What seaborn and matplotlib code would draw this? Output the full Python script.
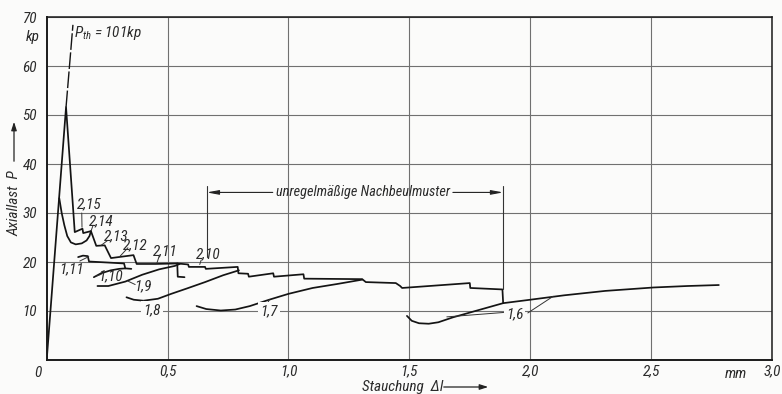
import matplotlib
matplotlib.use("Agg")
import matplotlib.pyplot as plt
from matplotlib import font_manager as fm
import seaborn as sns
import pandas as pd

# ---------------- data ----------------
main_x = [0.0, 0.080, 0.116, 0.148, 0.151, 0.183, 0.205, 0.240, 0.266, 0.359, 0.372,
          0.45, 0.540, 0.585, 0.588, 0.655, 0.658, 0.79, 0.793, 0.833, 0.836, 0.937,
          0.940, 1.062, 1.065, 1.305, 1.32, 1.444, 1.462, 1.47, 1.75, 1.752, 1.885, 1.888]
main_y = [0.0, 51.6, 26.1, 26.8, 25.9, 26.3, 23.3, 23.4, 20.8, 21.4, 19.6,
          19.6, 19.7, 19.5, 19.0, 19.0, 18.6, 19.0, 17.7, 17.6, 17.0, 17.7,
          17.0, 17.5, 16.6, 16.5, 15.9, 15.7, 15.1, 14.7, 15.7, 14.7, 14.4, 11.6]

b_x = [0.052, 0.062, 0.073, 0.085, 0.100, 0.120, 0.145, 0.165, 0.177, 0.183]
b_y = [33.0, 30.0, 27.5, 25.3, 24.0, 23.6, 23.8, 24.4, 25.3, 26.3]

c111_x = [0.13, 0.15, 0.17, 0.175, 0.25, 0.32, 0.325, 0.35]
c111_y = [21.0, 21.3, 21.2, 20.1, 19.9, 19.7, 18.7, 18.6]

c110_x = [0.195, 0.225, 0.265, 0.30, 0.325]
c110_y = [16.9, 17.7, 18.3, 18.6, 18.7]

c19_x = [0.21, 0.255, 0.325, 0.395, 0.465, 0.53, 0.55]
c19_y = [15.1, 15.1, 16.0, 17.4, 18.5, 19.2, 19.6]

branch_x = [0.54, 0.542, 0.57]
branch_y = [19.7, 17.0, 16.9]

c18_x = [0.33, 0.36, 0.40, 0.46, 0.515, 0.58, 0.655, 0.73, 0.795]
c18_y = [12.8, 12.3, 12.1, 12.5, 13.5, 14.6, 15.9, 17.3, 18.3]

c17_x = [0.62, 0.66, 0.72, 0.78, 0.84, 0.92, 1.0, 1.1, 1.2, 1.305]
c17_y = [11.0, 10.4, 10.1, 10.3, 11.0, 12.3, 13.5, 14.7, 15.5, 16.4]

c16_x = [1.49, 1.51, 1.54, 1.58, 1.62, 1.68, 1.78, 1.888, 2.0, 2.14, 2.31, 2.51, 2.65, 2.78]
c16_y = [9.0, 8.0, 7.5, 7.4, 7.7, 8.7, 10.1, 11.6, 12.3, 13.2, 14.1, 14.8, 15.1, 15.3]

pth_x = [0.080, 0.1085]
pth_y = [51.6, 68.4]

lab_text = ["2,15", "2,14", "2,13", "2,12", "2,11", "2,10",
            "1,11", "1,10", "1,9", "1,8", "1,7", "1,6"]
lab_x = [0.175, 0.226, 0.288, 0.366, 0.492, 0.667, 0.104, 0.262, 0.397, 0.437, 0.921, 1.935]
lab_y = [31.7, 28.4, 25.3, 23.4, 22.2, 21.6, 18.6, 17.1, 15.0, 10.1, 9.9, 9.4]

# leader lines (x1, y1, x2, y2)
lead_x1 = [0.145, 0.192, 0.252, 0.336, 0.466, 0.639, 0.137, 0.226, 0.366, 0.422, 0.906, 1.890, 1.990]
lead_y1 = [30.0, 27.5, 24.4, 22.9, 21.3, 20.4, 20.2, 17.5, 15.4, 11.0, 10.9, 9.7, 9.6]
lead_x2 = [0.146, 0.184, 0.225, 0.300, 0.456, 0.633, 0.174, 0.205, 0.336, 0.400, 0.921, 1.655, 2.095]
lead_y2 = [27.1, 26.4, 23.4, 21.0, 19.8, 19.5, 21.1, 17.1, 16.1, 12.1, 12.3, 8.8, 13.0]

dim_left, dim_right, dim_y = 0.662, 1.888, 34.2
dim_left_bottom, dim_right_bottom, dim_top = 21.0, 14.4, 35.6

xtick_pos = [0.5, 1.0, 1.5, 2.0, 2.5, 3.0]
xtick_lab = ["0,5", "1,0", "1,5", "2,0", "2,5", "3,0"]
ytick_pos = [10, 20, 30, 40, 50, 60, 70]
ytick_lab = ["10", "20", "30", "40", "50", "60", "70"]

# ---------------- build table ----------------
segs = [("main", main_x, main_y), ("b", b_x, b_y), ("1.11", c111_x, c111_y),
        ("1.10", c110_x, c110_y), ("1.9", c19_x, c19_y), ("br", branch_x, branch_y),
        ("1.8", c18_x, c18_y), ("1.7", c17_x, c17_y), ("1.6", c16_x, c16_y)]
rows = []
for name, xs, ys in segs:
    for i, (x, y) in enumerate(zip(xs, ys)):
        rows.append({"seg": name, "order": i, "x": x, "y": y})
df = pd.DataFrame(rows)
df_pth = pd.DataFrame({"x": pth_x, "y": pth_y})

# ---------------- font: prefer a narrow / condensed sans ----------------
sns.set_style("white")
cond_fams = [f.name for f in fm.fontManager.ttflist
             if str(f.stretch) in ("condensed", "semi-condensed", "extra-condensed")
             or "Narrow" in f.name or "Condensed" in f.name]
pref = ["Liberation Sans Narrow", "Noto Sans Condensed", "Roboto Condensed",
        "Open Sans Condensed", "DejaVu Sans Condensed", "Noto Sans"]
chosen = None
for p in pref:
    if p in cond_fams:
        chosen = p
        break
if chosen is None and cond_fams:
    chosen = sorted(set(cond_fams))[0]
if chosen is None:
    chosen = "DejaVu Sans"
narrow = chosen != "DejaVu Sans"
plt.rcParams["font.family"] = [chosen, "DejaVu Sans"]
plt.rcParams["font.style"] = "italic"
plt.rcParams["font.stretch"] = "condensed"
plt.rcParams["mathtext.fontset"] = "custom"
plt.rcParams["mathtext.it"] = chosen + ":italic"
plt.rcParams["mathtext.rm"] = chosen
FS = 11 if narrow else 9.0
FS_DIM = 10.3 if narrow else 8.5

TXT = "#2b2b2b"
LINE = "#141414"
GRID = "#707070"

W, H = 782, 394
fig = plt.figure(figsize=(W / 100, H / 100), dpi=100)
fig.patch.set_facecolor("#fbfbfa")
left_px, right_px, top_px, bot_px = 46.7, 772, 17, 360
ax = fig.add_axes([left_px / W, 1 - bot_px / H, (right_px - left_px) / W, (bot_px - top_px) / H])
ax.set_facecolor("#fbfbfa")

sns.lineplot(data=df, x="x", y="y", units="seg", estimator=None, sort=False,
             color=LINE, lw=1.25, legend=False, ax=ax)
sns.lineplot(data=df_pth, x="x", y="y", estimator=None, sort=False, color=LINE,
             lw=1.0, legend=False, ax=ax, dashes=False, linestyle=(0, (12, 1.8)))

ax.set_xlim(0, 3.0)
ax.set_ylim(0, 70)
ax.set_xticks(xtick_pos)
ax.set_xticklabels(xtick_lab)
ax.set_yticks(ytick_pos)
ax.set_yticklabels(ytick_lab)
ax.tick_params(axis="both", length=0, labelsize=FS, colors=TXT)
ax.tick_params(axis="x", pad=3)
ax.tick_params(axis="y", pad=7)
ax.grid(True, color=GRID, lw=0.8)
ax.set_xlabel("")
ax.set_ylabel("")
for side, sp in ax.spines.items():
    sp.set_visible(True)
    sp.set_color("#1a1a1a")
    sp.set_linewidth(1.4 if side in ("left", "bottom") else 1.1)

# curve labels
boxed = {"1,8", "1,7", "1,6"}
for t, x, y in zip(lab_text, lab_x, lab_y):
    kw = {}
    if t in boxed:
        kw["bbox"] = dict(boxstyle="square,pad=0.15", fc="#fbfbfa", ec="none")
    ax.text(x, y, t, fontsize=FS, color=TXT, ha="center", va="center", zorder=4, **kw)
for x1, y1, x2, y2 in zip(lead_x1, lead_y1, lead_x2, lead_y2):
    ax.plot([x1, x2], [y1, y2], color="#333333", lw=0.7, zorder=3)

# P_th label
ax.text(0.113, 66.8, r"$P_{th}$ = 101kp", fontsize=FS, color=TXT, ha="left", va="center")

# dimension line "unregelmäßige Nachbeulmuster"
ax.plot([dim_left, dim_left], [dim_left_bottom, dim_top], color="#333333", lw=0.8)
ax.plot([dim_right, dim_right], [dim_right_bottom, dim_top], color="#333333", lw=0.8)
arr = dict(arrowstyle="-|>,head_length=0.7,head_width=0.13", color="#222222", lw=0.8,
           shrinkA=0, shrinkB=0)
ax.annotate("", xy=(dim_left, dim_y), xytext=(0.935, dim_y), arrowprops=arr)
ax.annotate("", xy=(dim_right, dim_y), xytext=(1.68, dim_y), arrowprops=arr)
ax.text((0.935 + 1.68) / 2, dim_y, "unregelmäßige Nachbeulmuster", fontsize=FS_DIM,
        color=TXT, ha="center", va="center")

# corner / unit texts
ax.text(-0.036, -2.6, "0", fontsize=FS, color=TXT, ha="center", va="center", clip_on=False)
ax.text(-0.028, 66.0, "kp", fontsize=FS, color=TXT, ha="right", va="center", clip_on=False)
ax.text(2.85, -2.8, "mm", fontsize=FS, color=TXT, ha="center", va="center", clip_on=False)

# axis titles with arrows (figure pixel coordinates)
def fx(px):
    return px / W

def fy(py):
    return 1 - py / H

fig.text(fx(14), fy(203), "Axiallast  P", rotation=90, fontsize=FS, color=TXT,
         ha="center", va="center")
fig.add_artist(matplotlib.patches.FancyArrowPatch(
    (fx(14), fy(164)), (fx(14), fy(119)), transform=fig.transFigure,
    arrowstyle="-|>,head_length=5,head_width=1.6", color="#222222", lw=0.9))
fig.text(fx(362), fy(387), "Stauchung  Δl", fontsize=FS, color=TXT,
         ha="left", va="center")
fig.add_artist(matplotlib.patches.FancyArrowPatch(
    (fx(441), fy(387)), (fx(491), fy(387)), transform=fig.transFigure,
    arrowstyle="-|>,head_length=5,head_width=1.6", color="#222222", lw=0.9))

fig.savefig("out.png", dpi=100, facecolor=fig.get_facecolor())
